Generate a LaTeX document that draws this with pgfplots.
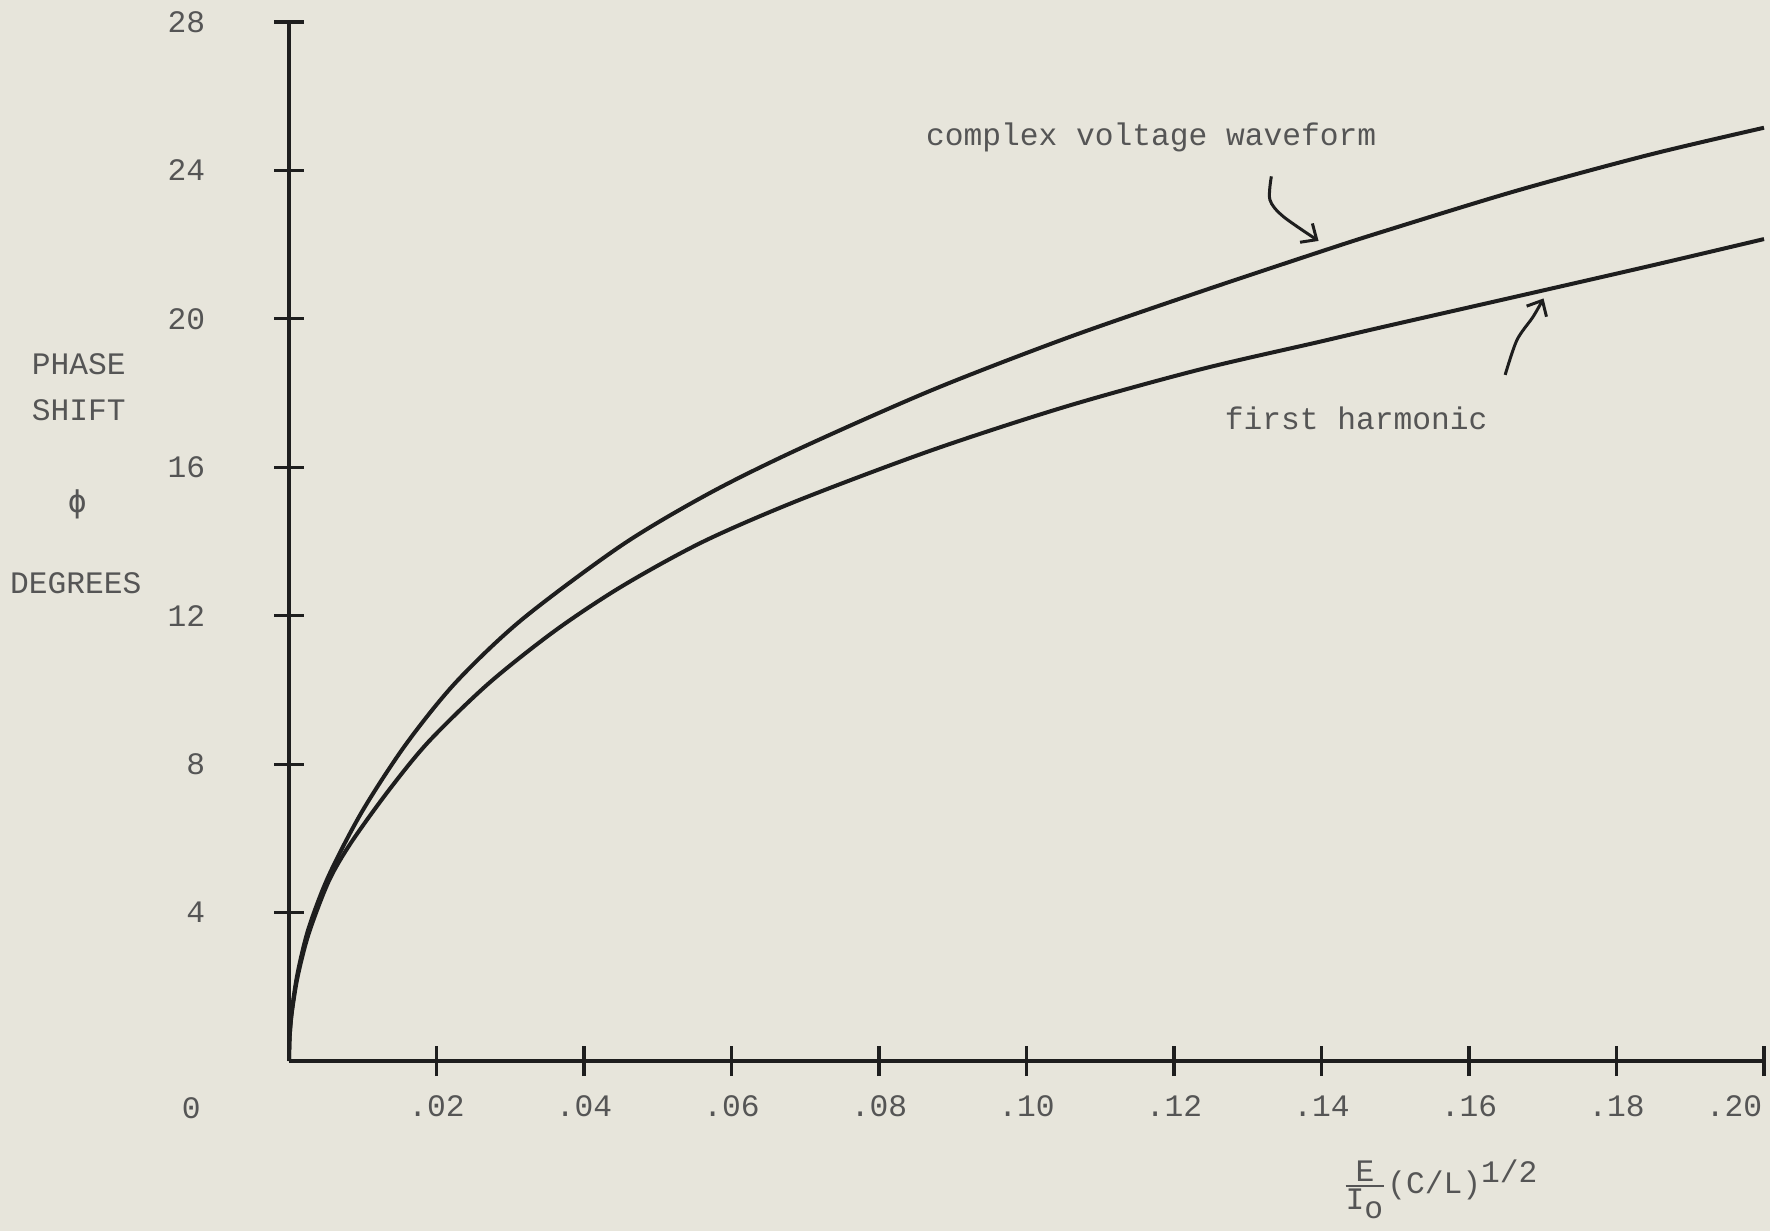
\documentclass[border=0pt]{standalone}
\usepackage{amsmath}
\usepackage{fontspec}
\setmainfont{Liberation Mono}
\newfontfamily\dejavumono{DejaVu Sans Mono}
\usepackage{pgfplots}
\pgfplotsset{compat=1.18}
\usetikzlibrary{arrows.meta}
\definecolor{paper}{RGB}{231,229,219}
\definecolor{ink}{RGB}{30,30,30}
\definecolor{typed}{RGB}{85,85,85}
\begin{document}
\begin{tikzpicture}[font=\fontsize{12.5}{15}\selectfont]
\useasboundingbox (0,0) rectangle (708pt,492.4pt);
\fill[paper] (0,0) rectangle (708pt,492.4pt);
\begin{axis}[
  at={(115.6pt,68pt)}, anchor=south west,
  scale only axis, width=590pt, height=415.6pt,
  xmin=0, xmax=0.2, ymin=0, ymax=28,
  axis x line=bottom, axis y line=left,
  axis line style={-, line width=1.4pt, ink},
  clip=false,
  tick align=center, major tick length=12pt,
  tick style={line width=1.3pt, ink},
  xtick={0.02,0.04,0.06,0.08,0.10,0.12,0.14,0.16,0.18},
  xticklabels={.02,.04,.06,.08,.10,.12,.14,.16,.18},
  extra x ticks={0.2}, extra x tick labels={.20},
  extra x tick style={xticklabel style={xshift=-12pt}},
  ytick={4,8,12,16,20,24,28},
  yticklabels={4,8,12,16,20,24,28},
  xticklabel style={text=typed, yshift=-4.5pt},
  yticklabel style={text=typed, anchor=east, xshift=-24pt},
]
% complex voltage waveform
\addplot[ink, line width=1.6pt, smooth] coordinates {
(0,0) (0.0001,0.7) (0.0004,1.38) (0.0012,2.4) (0.0027,3.6) (0.0054,5.0)
(0.0099,6.72) (0.0158,8.52) (0.0226,10.2) (0.0316,11.9) (0.0452,13.91)
(0.057,15.3) (0.0692,16.5) (0.0873,18.09) (0.1054,19.48) (0.1234,20.72)
(0.1397,21.8) (0.1483,22.35) (0.1664,23.45) (0.1844,24.42) (0.2,25.15)};
% first harmonic
\addplot[ink, line width=1.6pt, smooth] coordinates {
(0,0) (0.0001,0.68) (0.0004,1.33) (0.0012,2.3) (0.0027,3.45) (0.0054,4.85)
(0.0084,5.88) (0.01355,7.3) (0.0190,8.62) (0.0271,10.18) (0.0361,11.6)
(0.0452,12.8) (0.0562,14.0) (0.0692,15.12) (0.0873,16.47) (0.1054,17.64)
(0.1234,18.63) (0.1397,19.38) (0.1483,19.78) (0.1664,20.6) (0.1844,21.42)
(0.2,22.15)};
% hand-drawn arrows
\addplot[ink, line width=1.2pt, smooth, -{Straight Barb[length=5pt,width=9pt]}] coordinates {
(0.1332,23.84) (0.1330,23.21) (0.1348,22.76) (0.1396,22.1)};
\addplot[ink, line width=1.2pt, smooth, -{Straight Barb[length=5pt,width=9pt]}] coordinates {
(0.1649,18.49) (0.1665,19.43) (0.1687,20.06) (0.1701,20.55)};
% annotations
\node[text=typed] at (axis cs:0.1169,24.88) {complex voltage waveform};
\node[text=typed] at (axis cs:0.1447,17.33) {first harmonic};
\node[text=typed] at (axis cs:-0.0285,18.79) {PHASE};
\node[text=typed] at (axis cs:-0.0285,17.55) {SHIFT};
\node[text=typed] at (axis cs:-0.0287,15.0) {\dejavumono ϕ};
\node[text=typed] at (axis cs:-0.0289,12.88) {DEGREES};
\node[text=typed, anchor=east, inner sep=0pt] at (axis cs:-0.0119,-1.27) {0};
\node[text=typed, anchor=west, inner sep=0pt] at (axis cs:0.1428,-3.45)
  {$\genfrac{}{}{0.8pt}{1}{\mbox{E}}{\mbox{I}_{\mbox{o}}}$(C/L)$^{\mbox{1/2}}$};
\end{axis}
\end{tikzpicture}
\end{document}
